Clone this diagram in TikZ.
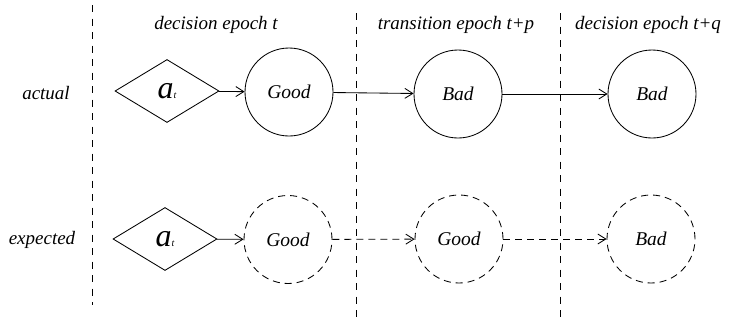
\documentclass[tikz,border=0pt]{standalone}
\usepackage{fontspec}
\setmainfont{Liberation Serif}[ItalicFont={Liberation Serif Italic}]
\usetikzlibrary{shapes.geometric,arrows.meta}

\tikzset{
  lbl/.style={font=\rmfamily\itshape\fontsize{19}{21}\selectfont, inner sep=0pt},
  state/.style={circle, draw, minimum size=88pt, inner sep=0pt, font=\rmfamily\itshape\fontsize{19.5}{21}\selectfont},
  estate/.style={state, dash pattern=on 7pt off 5pt},
  act/.style={diamond, draw, minimum width=104pt, minimum height=63pt, inner sep=0pt, aspect=1.65},
  divider/.style={dash pattern=on 7pt off 6.5pt},
  link/.style={-{Straight Barb[length=8pt,width=10pt]}},
  elink/.style={link, dash pattern=on 7pt off 5pt},
}

\newcommand{\actlabel}{{\rmfamily\itshape\fontsize{32}{32}\selectfont a}{\rmfamily\itshape\fontsize{10}{10}\selectfont t}}

\begin{document}
\begin{tikzpicture}[x=1pt, y=-1pt, line width=0.85pt]
  \useasboundingbox (0,0) rectangle (732,322);

  % epoch dividers
  \coordinate (d0t) at (92,5);   \coordinate (d0b) at (92,305);
  \coordinate (d1t) at (356,13); \coordinate (d1b) at (356,322);
  \coordinate (d2t) at (560,13); \coordinate (d2b) at (560,322);
  \draw[divider] (d0t) -- (d0b);
  \draw[divider] (d1t) -- (d1b);
  \draw[divider] (d2t) -- (d2b);

  % epoch headings
  \node[lbl] (h1) at (216,25) {decision epoch t};
  \node[lbl] (h2) at (456,25) {transition epoch t+p};
  \node[lbl] (h3) at (648,25) {decision epoch t+q};

  % row headings
  \node[lbl] (r1) at (46,93) {actual};
  \node[lbl] (r2) at (42,240) {expected};

  % actual trajectory
  \node[act] (a1) at (167,91) {\actlabel};
  \node[state] (g1) at (289,92) {Good};
  \node[state] (b1) at (458,94) {Bad};
  \node[state] (b2) at (652,94) {Bad};
  \draw[link] (a1) -- (g1);
  \draw[link] (g1) -- (b1);
  \draw[link] (b1) -- (b2);

  % expected trajectory
  \node[act] (a2) at (165,239) {\actlabel};
  \node[estate] (g2) at (288,239.5) {Good};
  \node[estate] (g3) at (459,239) {Good};
  \node[estate] (b3) at (651,239) {Bad};
  \draw[link] (a2) -- (g2);
  \draw[elink] (g2) -- (g3);
  \draw[elink] (g3) -- (b3);
\end{tikzpicture}
\end{document}
